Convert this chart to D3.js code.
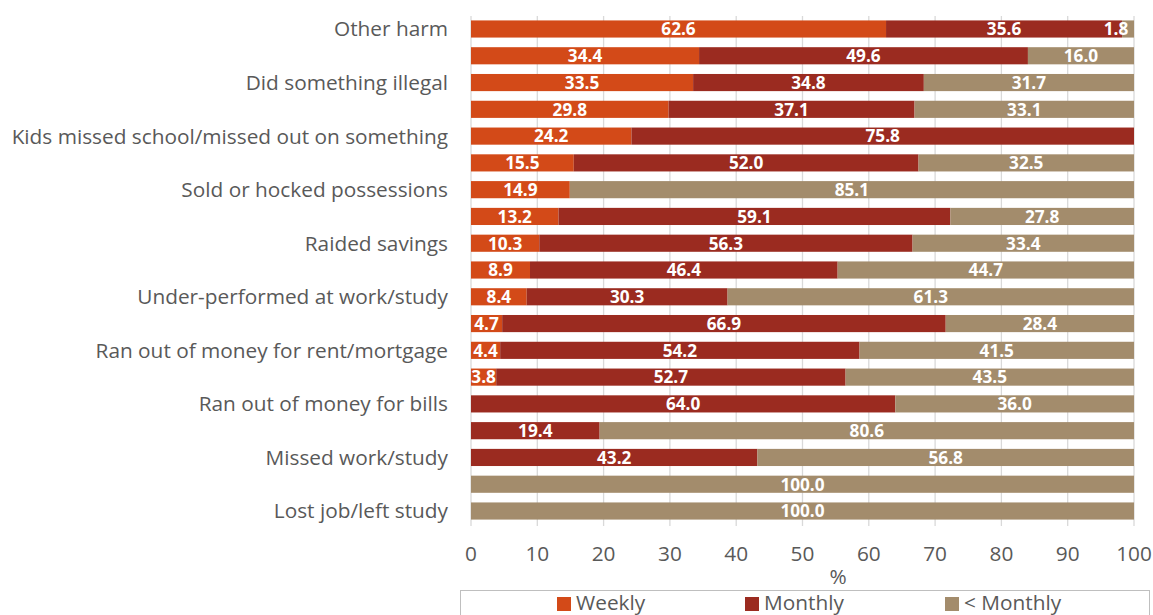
<!DOCTYPE html>
<html><head><meta charset="utf-8">
<script src="https://cdn.jsdelivr.net/npm/d3@7"></script>
<style>body{margin:0;background:#fff}svg{display:block}</style>
</head><body><svg id="c" width="1153" height="615"></svg>
<script>
const categories = ["Other harm","","Did something illegal","","Kids missed school/missed out on something","","Sold or hocked possessions","","Raided savings","","Under-performed at work/study","","Ran out of money for rent/mortgage","","Ran out of money for bills","","Missed work/study","","Lost job/left study"];
const weekly  = [62.6,34.4,33.5,29.8,24.2,15.5,14.9,13.2,10.3,8.9,8.4,4.7,4.4,3.8,0,0,0,0,0];
const monthly = [35.6,49.6,34.8,37.1,75.8,52.0,0,59.1,56.3,46.4,30.3,66.9,54.2,52.7,64.0,19.4,43.2,0,0];
const lessMonthly = [1.8,16.0,31.7,33.1,0,32.5,85.1,27.8,33.4,44.7,61.3,28.4,41.5,43.5,36.0,80.6,56.8,100.0,100.0];
const seriesNames = ["Weekly","Monthly","< Monthly"];
const xTicks = [0,10,20,30,40,50,60,70,80,90,100];
const colors = ["#D34A18","#9B2B20","#A38C6C"];

const svg = d3.select("#c");
const font = "'Open Sans', sans-serif";
const fs = 20.8;
const x = d3.scaleLinear().domain([0,100]).range([471,1134]);
const y = d3.scaleBand().domain(d3.range(categories.length)).range([15.6,524.4]).paddingInner(0.36).paddingOuter(0.18);

// gridlines
svg.append("g").selectAll("line").data(xTicks).join("line")
  .attr("x1",d=>x(d)).attr("x2",d=>x(d)).attr("y1",16).attr("y2",526)
  .attr("stroke","#D9D9D9").attr("stroke-width",1.3);

const rows = categories.map((c,i)=>({i, vals:[weekly[i],monthly[i],lessMonthly[i]]}));
const segs = [];
rows.forEach(r=>{let acc=0; r.vals.forEach((v,k)=>{segs.push({i:r.i,k,v,x0:acc,x1:Math.min(100,acc+v)}); acc+=v;});});

svg.append("g").selectAll("rect").data(segs.filter(s=>s.v>0)).join("rect")
  .attr("x",s=>x(s.x0)).attr("width",s=>x(s.x1)-x(s.x0))
  .attr("y",s=>y(s.i)).attr("height",y.bandwidth())
  .attr("fill",s=>colors[s.k]);

svg.append("g").selectAll("text").data(segs.filter(s=>s.v>0)).join("text")
  .attr("x",s=>Math.min((x(s.x0)+x(s.x1))/2, 1116)).attr("y",s=>y(s.i)+y.bandwidth()/2)
  .attr("dy","0.37em").attr("text-anchor","middle")
  .attr("fill","#fff").attr("font-weight","bold").attr("font-size",17.2).attr("font-family",font)
  .text(s=>s.v.toFixed(1));

// category labels
svg.append("g").selectAll("text").data(categories.map((c,i)=>({c,i})).filter(d=>d.c)).join("text")
  .attr("x",448).attr("y",d=>y(d.i)+y.bandwidth()/2).attr("dy","0.36em")
  .attr("text-anchor","end").attr("fill","#595959").attr("font-size",fs).attr("font-family",font)
  .text(d=>d.c);

// x tick labels
svg.append("g").selectAll("text").data(xTicks).join("text")
  .attr("x",d=>x(d)).attr("y",554).attr("dy","0.36em").attr("text-anchor","middle")
  .attr("fill","#595959").attr("font-size",fs).attr("font-family",font).text(d=>d);
svg.append("text").attr("x",838).attr("y",584).attr("text-anchor","middle")
  .attr("fill","#595959").attr("font-size",fs).attr("font-family",font).text("%");

// legend
svg.append("rect").attr("x",460.5).attr("y",590.5).attr("width",689).attr("height",40)
  .attr("fill","none").attr("stroke","#BFBFBF").attr("stroke-width",1);
const lx = [557,745,945];
const lg = svg.append("g").selectAll("g").data(seriesNames).join("g");
lg.append("rect").attr("x",(d,i)=>lx[i]).attr("y",597).attr("width",14).attr("height",14).attr("fill",(d,i)=>colors[i]);
lg.append("text").attr("x",(d,i)=>lx[i]+19).attr("y",609.5)
  .attr("fill","#595959").attr("font-size",fs).attr("font-family",font).text(d=>d);
</script></body></html>
